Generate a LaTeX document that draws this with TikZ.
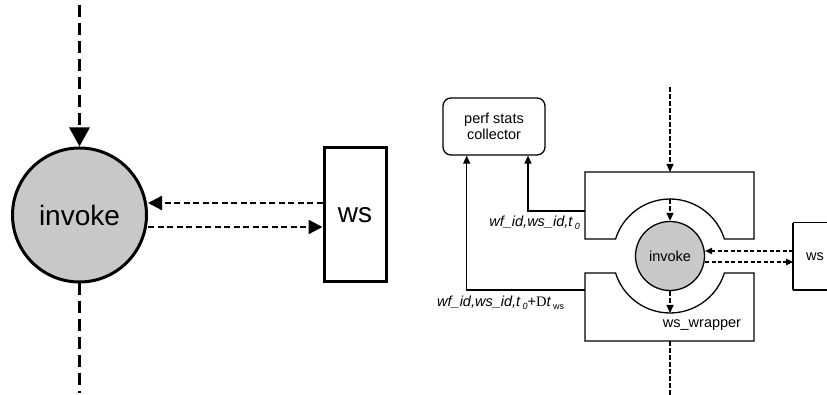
\documentclass[tikz,border=0pt]{standalone}
\usepackage{fontspec}
\setmainfont{Liberation Sans}
\newfontfamily\serifD{Liberation Serif}
\usetikzlibrary{arrows.meta}
\definecolor{invgray}{RGB}{199,200,202}
\newcommand{\lowsub}[1]{\,\raisebox{-3.5pt}{\fontsize{9}{10}\selectfont #1}}
\tikzset{
  bigline/.style={line width=3pt},
  bigdash/.style={bigline, dash pattern=on 12pt off 6pt},
  bigdot/.style={line width=2.4pt, dash pattern=on 6pt off 3.5pt},
  bigtip/.style={-{Triangle[length=19pt,width=20pt]}},
  midtip/.style={-{Triangle[length=14pt,width=14pt]}},
  thin1/.style={line width=1.3pt},
  smdash/.style={thin1, dash pattern=on 5pt off 2pt},
  smdot/.style={line width=1.2pt, dash pattern=on 4pt off 2.5pt},
  smtip/.style={-{Triangle[length=8pt,width=7pt]}},
  smtip2/.style={-{Triangle[length=7pt,width=6.5pt]}},
  bigfont/.style={font=\fontsize{28}{32}\selectfont},
  smfont/.style={font=\fontsize{14.5}{17}\selectfont},
}
\begin{document}
\begin{tikzpicture}[x=1pt,y=1pt]
\useasboundingbox (0,0) rectangle (827,395);
% ---------- left diagram ----------
\node[bigline, draw, fill=invgray, circle, minimum size=134pt, inner sep=0pt, bigfont] (inv) at (79.5,180) {invoke};
\node[bigline, draw, minimum width=62pt, minimum height=134pt, inner sep=0pt, bigfont] (ws) at (355,180) {ws};
\coordinate (ltop) at (79.5,390);
\coordinate (lbot) at (79.5,2);
\draw[bigdash, bigtip] (ltop) -- (inv.north);
\draw[bigdash] (inv.south) -- (lbot);
\draw[bigdot, midtip] (ws.west |- 0,192) -- (inv.east |- 0,192);
\draw[bigdot, midtip] (inv.east |- 0,168) -- (ws.west |- 0,168);
% ---------- right diagram ----------
\node[thin1, draw, rounded corners=8pt, minimum width=102pt, minimum height=57pt, inner sep=0pt, smfont, align=center] (psc) at (494,268.5) {perf stats\\[-1pt]collector};
\draw[thin1] (585,223) coordinate (wtl) -- (754,223) -- (754,156) -- (724.4,156)
   arc[start angle=17.35, end angle=162.65, radius=57] -- (585,156) -- cycle;
\draw[thin1] (585,54) -- (754,54) -- (754,122) -- (724.4,122)
   arc[start angle=-17.35, end angle=-162.65, radius=57] -- (585,122) coordinate (wbl) -- cycle;
\node[thin1, draw, fill=invgray, circle, minimum size=69pt, inner sep=0pt, smfont] (sinv) at (670,139) {invoke};
\node[smfont] (wrap) at (702,70) {ws\_wrapper};
\draw[thin1] (793,172.3) -- (840,172.3);
\draw[thin1] (793,105) -- (840,105);
\draw[thin1] (793,105) -- (793,172.3);
\coordinate (sws) at (793,138);
\node[smfont] (swst) at (815,138) {ws};
\coordinate (rtop) at (670,308);
\coordinate (wtop) at (670,223);
\coordinate (arctop) at (670,196);
\coordinate (arcbot) at (670,82);
\coordinate (wbot) at (670,54);
\coordinate (rbot) at (670,-2);
\draw[smdash, smtip] (rtop) -- (wtop);
\draw[smdash, smtip] (arctop) -- (sinv.north);
\draw[smdash, smtip] (sinv.south) -- (arcbot);
\draw[smdash] (wbot) -- (rbot);
\draw[smdot, smtip2] (sws |- 0,144) -- (sinv.east |- 0,144);
\draw[smdot, smtip2] (sinv.east |- 0,133) -- (sws |- 0,133);
\coordinate (a1) at (585,184);
\coordinate (a2) at (585,105);
\draw[thin1, smtip] (a1) -| (psc.south -| 528,0);
\draw[thin1, smtip] (a2) -| (psc.south -| 466.7,0);
\node[smfont, anchor=east, inner sep=0pt] (l1) at (580,172) {\itshape wf\_id,ws\_id,t\lowsub{0}};
\node[smfont, anchor=west, inner sep=0pt] (l2) at (437,92) {\itshape wf\_id,ws\_id,t\lowsub{0}\upshape+{\serifD D}\itshape t\lowsub{\upshape ws}};
\end{tikzpicture}
\end{document}
